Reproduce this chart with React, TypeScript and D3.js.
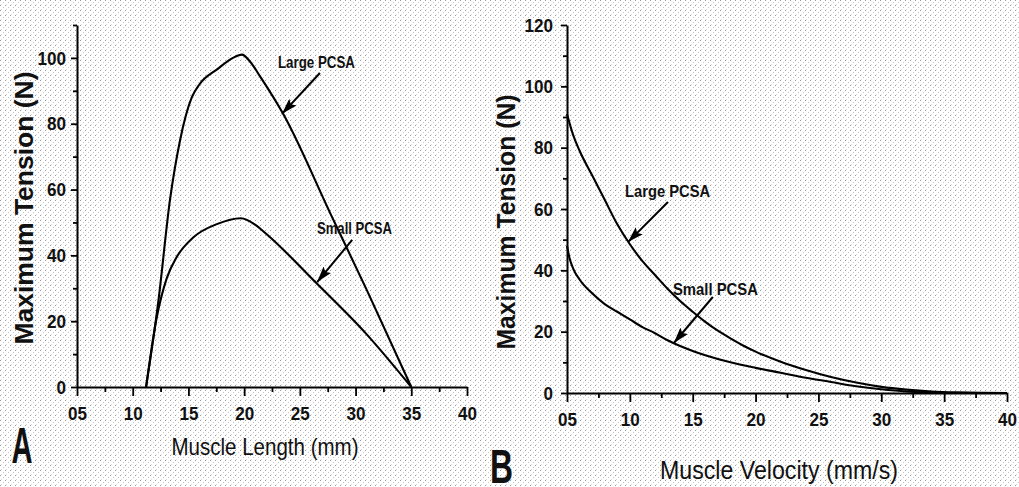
import {useEffect, useRef} from 'react';
import * as d3 from 'd3';

const W = 1019;
const H = 487;
const FONT = "'Liberation Sans', Arial, Helvetica, sans-serif";

// Panel A: maximum tension (N) vs muscle length (mm)
const largeLength = [
  [11.2, 0], [12.3, 26], [13.35, 57], [14.25, 75], [15.3, 88], [16, 92],
  [17.6, 96.6], [19, 100], [19.8, 101], [20.5, 99], [21.5, 94], [23.5, 83],
  [27.7, 53], [31, 29.5], [35, 0],
];
const smallLength = [
  [11.2, 0], [12.15, 21], [13.05, 33], [13.95, 39.5], [15.45, 45.5],
  [17.55, 49.5], [19.7, 51.3], [21, 49.3], [22, 46.5], [26.5, 31.5], [31, 16], [35, 0],
];

// Panel B: maximum tension (N) vs muscle velocity (mm/s)
const largeVelocity = [
  [5, 91], [5.5, 84], [6, 79], [7, 71], [8, 63], [9, 55], [10, 48.5], [11, 43],
  [12, 38.5], [13, 34], [14, 30], [15, 26.5], [16, 23.2], [17, 20.3], [18, 17.8],
  [19, 15.5], [20, 13.5], [22, 10.2], [24, 7.5], [26, 5.2], [28, 3.4], [30, 2],
  [32, 1.1], [34, 0.5], [36, 0.2], [38, 0.05], [40, 0],
];
const smallVelocity = [
  [5, 48], [5.2, 44], [5.5, 40.5], [6, 37], [7, 32.5], [8, 29], [9, 26.5],
  [10, 24], [11, 21.5], [12, 19.5], [13, 17.2], [14, 15.3], [15, 13.7],
  [16, 12.3], [18, 10], [20, 8.2], [22, 6.6], [24, 5], [26, 3.6], [28, 2.2],
  [30, 1.2], [32, 0.5], [34, 0.2], [36, 0], [40, 0],
];

const xTicks = [5, 10, 15, 20, 25, 30, 35, 40];
const xMinor = [7.5, 12.5, 17.5, 22.5, 27.5, 32.5, 37.5];
const yTicksA = [0, 20, 40, 60, 80, 100];
const yMinorA = [10, 30, 50, 70, 90, 110];
const yTicksB = [0, 20, 40, 60, 80, 100, 120];
const yMinorB = [10, 30, 50, 70, 90, 110];

// annotations, in data units: label anchor, arrow tail, arrow tip
const notesA = [
  {text: 'Large PCSA', at: [26.49, 96.9], from: [26.8, 95.4], to: [23.4, 83]},
  {text: 'Small PCSA', at: [29.9, 46.5], from: [29.7, 44.7], to: [26.55, 31.9]},
];
const notesB = [
  {text: 'Large PCSA', at: [13.0, 63.9], from: [13.03, 62.3], to: [9.85, 49.2]},
  {text: 'Small PCSA', at: [16.81, 32], from: [16.6, 31.3], to: [13.5, 16.3]},
];

const App = () => {
  const svgRef = useRef(null);

  useEffect(() => {
    const svg = d3.select(svgRef.current);
    svg.selectAll('*').remove();

    // scanned-paper halftone background
    const defs = svg.append('defs');
    const pat = defs.append('pattern')
      .attr('id', 'halftone')
      .attr('width', 5).attr('height', 5)
      .attr('patternUnits', 'userSpaceOnUse');
    pat.append('rect').attr('width', 5).attr('height', 5).attr('fill', '#ffffff');
    pat.append('rect').attr('x', 0).attr('y', 0).attr('width', 1).attr('height', 1).attr('fill', '#9c9c9c');
    pat.append('rect').attr('x', 3).attr('y', 2).attr('width', 1).attr('height', 1).attr('fill', '#c4c4c4');
    pat.append('rect').attr('x', 1).attr('y', 4).attr('width', 1).attr('height', 1).attr('fill', '#dadada');

    defs.append('marker')
      .attr('id', 'arrowhead')
      .attr('viewBox', '0 0 16 10')
      .attr('refX', 16).attr('refY', 5)
      .attr('markerUnits', 'userSpaceOnUse')
      .attr('markerWidth', 16).attr('markerHeight', 10)
      .attr('orient', 'auto')
      .append('path')
      .attr('d', 'M0,0 L16,5 L0,10 L3,5 Z')
      .attr('fill', '#000');

    svg.append('rect').attr('width', W).attr('height', H).attr('fill', 'url(#halftone)');

    const panels = [
      {
        xRange: [77, 467], yRange: [387, 25], yMax: 110,
        yTicks: yTicksA, yMinor: yMinorA, series: [largeLength, smallLength], notes: notesA,
        noteLen: [77, 75], yPad: 5,
      },
      {
        xRange: [567, 1007], yRange: [393, 25], yMax: 120,
        yTicks: yTicksB, yMinor: yMinorB, series: [largeVelocity, smallVelocity], notes: notesB,
        noteLen: [85, 85], yPad: 8,
      },
    ];

    panels.forEach(p => {
      const x = d3.scaleLinear().domain([5, 40]).range(p.xRange);
      const y = d3.scaleLinear().domain([0, p.yMax]).range(p.yRange);
      const g = svg.append('g');

      // minor ticks
      g.append('g')
        .attr('transform', `translate(0,${y(0)})`)
        .call(d3.axisBottom(x).tickValues(xMinor).tickSize(5).tickFormat(() => ''))
        .call(a => a.select('.domain').remove());
      g.append('g')
        .attr('transform', `translate(${x(5)},0)`)
        .call(d3.axisLeft(y).tickValues(p.yMinor).tickSize(4).tickFormat(() => ''))
        .call(a => a.select('.domain').remove());

      const xAxis = g.append('g')
        .attr('transform', `translate(0,${y(0)})`)
        .call(d3.axisBottom(x).tickValues(xTicks).tickSize(9).tickPadding(11)
          .tickSizeOuter(0).tickFormat(d => d3.format('02d')(d)));
      const yAxis = g.append('g')
        .attr('transform', `translate(${x(5)},0)`)
        .call(d3.axisLeft(y).tickValues(p.yTicks).tickSize(6).tickPadding(p.yPad)
          .tickSizeOuter(0));

      [xAxis, yAxis].forEach(a => {
        a.select('.domain').attr('stroke', '#000').attr('stroke-width', 2);
        a.selectAll('.tick text')
          .style('font-family', FONT)
          .style('font-size', '19px')
          .style('font-weight', 'bold')
          .attr('fill', '#111')
          .attr('textLength', function () { return this.textContent.length * 9.5; })
          .attr('lengthAdjust', 'spacingAndGlyphs');
      });
      g.selectAll('.tick line').attr('stroke', '#000').attr('stroke-width', 1.8);

      const line = d3.line()
        .x(d => x(d[0]))
        .y(d => y(d[1]))
        .curve(d3.curveMonotoneX);

      p.series.forEach(s => {
        g.append('path')
          .datum(s)
          .attr('fill', 'none')
          .attr('stroke', '#000')
          .attr('stroke-width', 2.1)
          .attr('stroke-linejoin', 'round')
          .attr('d', line);
      });

      p.notes.forEach((n, i) => {
        g.append('line')
          .attr('x1', x(n.from[0])).attr('y1', y(n.from[1]))
          .attr('x2', x(n.to[0])).attr('y2', y(n.to[1]))
          .attr('stroke', '#000')
          .attr('stroke-width', 2)
          .attr('marker-end', 'url(#arrowhead)');
        g.append('text')
          .attr('x', x(n.at[0])).attr('y', y(n.at[1]))
          .attr('text-anchor', 'middle')
          .style('font-family', FONT)
          .style('font-size', '17px')
          .style('font-weight', 'bold')
          .attr('fill', '#111')
          .attr('textLength', p.noteLen[i])
          .attr('lengthAdjust', 'spacingAndGlyphs')
          .text(n.text);
      });
    });

    // axis titles and panel letters
    const texts = [
      {t: 'Maximum Tension (N)', x: 33, y: 208, rot: true, size: 25, len: 273, bold: true},
      {t: 'Muscle Length (mm)', x: 265, y: 455, size: 24, len: 187},
      {t: 'Maximum Tension (N)', x: 515, y: 222, rot: true, size: 25, len: 255, bold: true},
      {t: 'Muscle Velocity (mm/s)', x: 779, y: 479, size: 25, len: 238},
      {t: 'A', x: 22, y: 463, size: 50, len: 21, bold: true},
      {t: 'B', x: 501.5, y: 483, size: 48, len: 23, bold: true},
    ];
    texts.forEach(d => {
      svg.append('text')
        .attr('transform', d.rot ? `translate(${d.x},${d.y}) rotate(-90)` : `translate(${d.x},${d.y})`)
        .attr('text-anchor', 'middle')
        .style('font-family', FONT)
        .style('font-size', `${d.size}px`)
        .style('font-weight', d.bold ? 'bold' : 'normal')
        .attr('fill', '#111')
        .attr('textLength', d.len)
        .attr('lengthAdjust', 'spacingAndGlyphs')
        .text(d.t);
    });
  }, []);

  return (
    <svg
      ref={svgRef}
      width={W}
      height={H}
      style={{position: 'absolute', left: 0, top: 0, display: 'block'}}
    />
  );
};

export default App;
